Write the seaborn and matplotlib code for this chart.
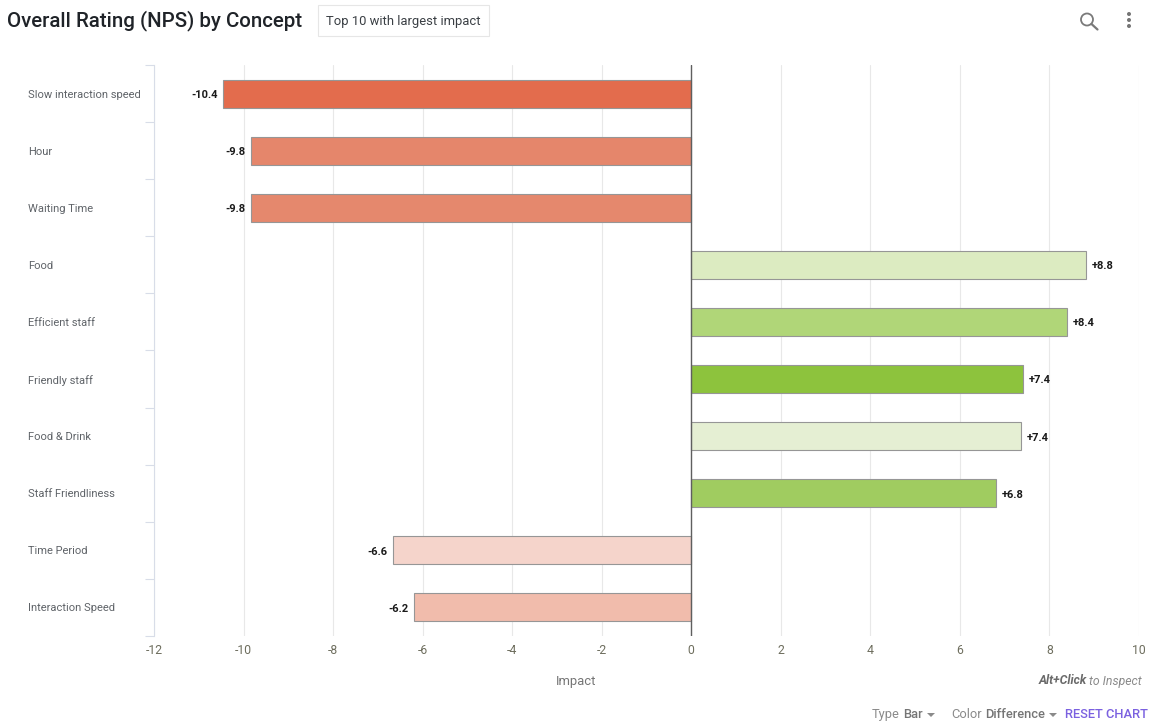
import matplotlib
matplotlib.use('Agg')
import matplotlib.pyplot as plt
from matplotlib.lines import Line2D
from matplotlib.patches import Circle, Polygon, Rectangle
import pandas as pd
import seaborn as sns

# Values
concepts = ['Slow interaction speed', 'Hour', 'Waiting Time', 'Food', 'Efficient staff',
            'Friendly staff', 'Food & Drink', 'Staff Friendliness', 'Time Period', 'Interaction Speed']
impact = [-10.45, -9.83, -9.83, 8.82, 8.4, 7.42, 7.37, 6.81, -6.67, -6.2]
bar_labels = ['-10.4', '-9.8', '-9.8', '+8.8', '+8.4', '+7.4', '+7.4', '+6.8', '-6.6', '-6.2']
bar_colors = ['#e36c4d', '#e5866b', '#e5886d', '#dcebc1', '#b0d678',
              '#8dc33d', '#e5efd3', '#a0cc60', '#f5d4cb', '#f1bcac']
x_ticks = [-12, -10, -8, -6, -4, -2, 0, 2, 4, 6, 8, 10]

W, H = 1153, 728
sns.set_theme(style='white')
plt.rcParams['font.family'] = ['Roboto', 'DejaVu Sans']

df = pd.DataFrame({'concept': concepts, 'impact': impact})

fig = plt.figure(figsize=(W / 100, H / 100), dpi=100, facecolor='white')
ax = fig.add_axes([154 / W, 1 - 636 / H, (1139 - 154) / W, (636 - 65) / H])

sns.barplot(data=df, x='impact', y='concept', hue='concept', palette=bar_colors, legend=False,
            width=0.49, edgecolor='#969696', linewidth=0.8, saturation=1, ax=ax, zorder=3)

ax.set_xlim(-12, 10)
ax.set_ylim(9.5, -0.5)
ax.set_xticks(x_ticks)
ax.set_xticklabels([str(t) for t in x_ticks])
ax.tick_params(axis='x', length=0, pad=6, labelsize=8.8, labelcolor='#6e6e5e')
ax.grid(axis='x', color='#e8e8e8', linewidth=0.8, zorder=0)
ax.grid(axis='y', visible=False)

# y axis: ticks sit between the categories, labels are left aligned
ax.set_yticks([i - 0.5 for i in range(len(concepts) + 1)], minor=True)
ax.tick_params(axis='y', which='minor', length=6.5, width=0.8, color='#d8dde8', left=True)
ax.tick_params(axis='y', which='major', length=0, pad=90.7, labelsize=8, labelcolor='#5f6368')
for lab in ax.get_yticklabels():
    lab.set_ha('left')
    lab.set_va('center_baseline')

for side in ['top', 'right', 'bottom']:
    ax.spines[side].set_visible(False)
ax.spines['left'].set_color('#d8dde8')
ax.spines['left'].set_linewidth(0.8)

ax.axvline(0, color='#5f5f5f', linewidth=1, zorder=4)

ax.set_xlabel('Impact', fontsize=9.4, color='#757575')
ax.set_ylabel('')
ax.xaxis.set_label_coords((576 - 154) / (1139 - 154), -(681 - 636) / (636 - 65), transform=ax.transAxes)
ax.xaxis.label.set_verticalalignment('center')

for container, text in zip(ax.containers, bar_labels):
    for ann in ax.bar_label(container, labels=[text], padding=4, fontsize=8, fontweight='bold', color='#1a1a1a'):
        ann.xyann = (ann.xyann[0], ann.xyann[1] - 1)


def put(x, y, s, **kw):
    fig.text(x / W, 1 - y / H, s, va='center', **kw)


# header
put(7, 20.5, 'Overall Rating (NPS) by Concept', fontsize=14.75, fontweight='medium', color='#1f2328')
fig.add_artist(Rectangle((317.5 / W, 1 - 35.5 / H), 171 / W, 31 / H, transform=fig.transFigure,
                         facecolor='white', edgecolor='#e6e6e6', linewidth=0.8))
put(403.5, 21.2, 'Top 10 with largest impact', fontsize=9.4, ha='center', color='#3a3f44')

# search and menu icons
fig.add_artist(Circle((1087, H - 19.5), 6, transform=None, facecolor='none', edgecolor='#7a7a7a', linewidth=1.3))
fig.add_artist(Line2D([1091.5 / W, 1097.5 / W], [1 - 24 / H, 1 - 29.5 / H], color='#7a7a7a', linewidth=1.6))
for yy in [14, 20, 26]:
    fig.add_artist(Circle((1129, H - yy), 2, transform=None, facecolor='#757575', edgecolor='none'))

# footer
put(1039, 681, 'Alt+Click', fontsize=8.8, style='italic', fontweight='bold', color='#6a6a6a')
put(1089, 681, 'to Inspect', fontsize=8.8, style='italic', color='#8a8a8a')

put(872, 714.5, 'Type', fontsize=9.3, color='#8a8a8a')
put(903, 714.5, 'Bar', fontsize=9.3, fontweight='medium', color='#757575')
put(951, 714.5, 'Color', fontsize=9.3, color='#8a8a8a')
put(985, 714.5, 'Difference', fontsize=9.3, fontweight='medium', color='#757575')
put(1065, 714.5, 'RESET CHART', fontsize=9.3, fontweight='medium', color='#7b61e0')
for cx in [931, 1053]:
    fig.add_artist(Polygon([[(cx - 4) / W, 1 - 713 / H], [(cx + 4) / W, 1 - 713 / H], [cx / W, 1 - 717 / H]],
                           closed=True, transform=fig.transFigure, facecolor='#8a8a8a', edgecolor='none'))

fig.savefig('out.png', dpi=100, facecolor='white')
